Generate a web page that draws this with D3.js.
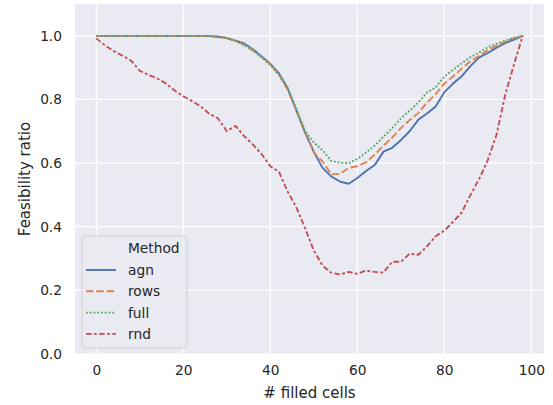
<!DOCTYPE html>
<html>
<head>
<meta charset="utf-8">
<script src="https://cdn.jsdelivr.net/npm/d3@7"></script>
<style>
    body { margin: 0; background: #fff; }
    svg { display: block; font-family: "DejaVu Sans", sans-serif; }
</style>
</head>
<body>
<div id="chart"></div>
<script>
// number of filled cells (x)
const cells = [0, 2, 4, 6, 8, 10, 12, 14, 16, 18, 20, 22, 24, 26, 28, 30, 32, 34, 36, 38,
    40, 42, 44, 46, 48, 50, 52, 54, 56, 58, 60, 62, 64, 66, 68, 70, 72, 74, 76, 78,
    80, 82, 84, 86, 88, 90, 92, 94, 96, 98];

// feasibility ratio per method
const agn = [1.0, 1.0, 1.0, 1.0, 1.0, 1.0, 1.0, 1.0, 1.0, 1.0, 1.0, 1.0, 1.0, 0.999, 0.997, 0.993, 0.985, 0.976, 0.958, 0.935,
    0.912, 0.882, 0.835, 0.765, 0.695, 0.635, 0.585, 0.558, 0.542, 0.535, 0.553, 0.575, 0.594, 0.636, 0.648, 0.672, 0.700, 0.736, 0.756, 0.778,
    0.823, 0.850, 0.873, 0.905, 0.932, 0.946, 0.963, 0.977, 0.988, 1.0];
const rows = [1.0, 1.0, 1.0, 1.0, 1.0, 1.0, 1.0, 1.0, 1.0, 1.0, 1.0, 1.0, 1.0, 0.999, 0.997, 0.993, 0.984, 0.972, 0.955, 0.933,
    0.910, 0.878, 0.830, 0.765, 0.700, 0.633, 0.605, 0.565, 0.566, 0.585, 0.590, 0.603, 0.626, 0.655, 0.680, 0.710, 0.735, 0.757, 0.790, 0.817,
    0.850, 0.872, 0.897, 0.920, 0.937, 0.955, 0.969, 0.982, 0.993, 1.0];
const full = [1.0, 1.0, 1.0, 1.0, 1.0, 1.0, 1.0, 1.0, 1.0, 1.0, 1.0, 1.0, 1.0, 0.999, 0.997, 0.992, 0.983, 0.970, 0.953, 0.932,
    0.908, 0.876, 0.835, 0.770, 0.700, 0.665, 0.640, 0.607, 0.601, 0.600, 0.613, 0.633, 0.655, 0.683, 0.710, 0.740, 0.765, 0.790, 0.822, 0.838,
    0.872, 0.893, 0.914, 0.933, 0.948, 0.964, 0.975, 0.985, 0.994, 1.0];
const rnd = [0.992, 0.970, 0.952, 0.938, 0.922, 0.890, 0.877, 0.866, 0.850, 0.828, 0.810, 0.795, 0.778, 0.755, 0.740, 0.700, 0.717, 0.685, 0.658, 0.628,
    0.590, 0.572, 0.510, 0.460, 0.395, 0.325, 0.278, 0.255, 0.250, 0.258, 0.252, 0.262, 0.258, 0.256, 0.290, 0.290, 0.315, 0.312, 0.338, 0.370,
    0.388, 0.415, 0.445, 0.500, 0.550, 0.610, 0.690, 0.815, 0.910, 1.0];

const methods = ["agn", "rows", "full", "rnd"];
const seriesValues = [agn, rows, full, rnd];
const xTicks = [0, 20, 40, 60, 80, 100];
const yTicks = [0.0, 0.2, 0.4, 0.6, 0.8, 1.0];

const colors = ["#4C72B0", "#DD8452", "#55A868", "#C44E52"];
const lw = 1.875;
const dashes = ["none", `${4 * lw},${1.5 * lw}`, `${1 * lw},${1 * lw}`, `${3 * lw},${1.25 * lw},${1.5 * lw},${1.25 * lw}`];

const W = 553, H = 405;
const margin = {top: 4, right: 9, bottom: 51, left: 75};
const width = W - margin.left - margin.right;
const height = H - margin.top - margin.bottom;
const textColor = "#262626";

const svg = d3.select("#chart").append("svg")
    .attr("width", W)
    .attr("height", H);

const g = svg.append("g")
    .attr("transform", `translate(${margin.left},${margin.top})`);

let x = d3.scaleLinear().domain([-4.9, 102.9]).range([0, width]);
let y = d3.scaleLinear().domain([0, 1.1]).range([height, 0]);

// background
g.append("rect")
    .attr("width", width)
    .attr("height", height)
    .attr("fill", "#EAEAF2");

// grid
g.selectAll(".xgrid").data(xTicks).join("line")
    .attr("x1", d => x(d)).attr("x2", d => x(d))
    .attr("y1", 0).attr("y2", height)
    .attr("stroke", "#fff").attr("stroke-width", 1.25);
g.selectAll(".ygrid").data(yTicks).join("line")
    .attr("class", "ygrid")
    .attr("x1", 0).attr("x2", width)
    .attr("y1", d => y(d)).attr("y2", d => y(d))
    .attr("stroke", "#fff").attr("stroke-width", 1.25);

// axes (tick labels only, like seaborn darkgrid)
let xAxis = g.append("g")
    .attr("transform", `translate(0,${height})`)
    .call(d3.axisBottom(x).tickValues(xTicks).tickSize(0).tickPadding(11));
let yAxis = g.append("g")
    .call(d3.axisLeft(y).tickValues(yTicks).tickFormat(d3.format(".1f")).tickSize(0).tickPadding(13));
[xAxis, yAxis].forEach(a => {
    a.select(".domain").remove();
    a.selectAll("text")
        .attr("fill", textColor)
        .style("font-size", "13.75px")
        .style("font-family", "DejaVu Sans, sans-serif");
});

// lines
const line = d3.line()
    .x((d, i) => x(cells[i]))
    .y(d => y(d));

seriesValues.forEach((vals, i) => {
    g.append("path")
        .datum(vals)
        .attr("fill", "none")
        .attr("stroke", colors[i])
        .attr("stroke-width", lw)
        .attr("stroke-dasharray", dashes[i])
        .attr("stroke-linejoin", "round")
        .attr("d", line);
});

// axis titles
svg.append("text")
    .attr("x", margin.left + width / 2)
    .attr("y", 398)
    .attr("text-anchor", "middle")
    .attr("fill", textColor)
    .style("font-size", "15px")
    .text("# filled cells");

svg.append("text")
    .attr("transform", `translate(30,${margin.top + height / 2}) rotate(-90)`)
    .attr("text-anchor", "middle")
    .attr("fill", textColor)
    .style("font-size", "15px")
    .text("Feasibility ratio");

// legend
const legend = svg.append("g").attr("transform", "translate(82,236)");
legend.append("rect")
    .attr("width", 105)
    .attr("height", 112)
    .attr("rx", 3)
    .attr("fill", "#EAEAF2")
    .attr("fill-opacity", 0.8)
    .attr("stroke", "#cfcfd6")
    .attr("stroke-width", 1);

legend.append("text")
    .attr("x", 46)
    .attr("y", 12 + 5)
    .attr("fill", textColor)
    .style("font-size", "13.75px")
    .text("Method");

methods.forEach((m, i) => {
    let cy = 34 + i * 21.3;
    legend.append("line")
        .attr("x1", 4).attr("x2", 34)
        .attr("y1", cy).attr("y2", cy)
        .attr("stroke", colors[i])
        .attr("stroke-width", lw)
        .attr("stroke-dasharray", dashes[i]);
    legend.append("text")
        .attr("x", 46)
        .attr("y", cy + 5)
        .attr("fill", textColor)
        .style("font-size", "13.75px")
        .text(m);
});
</script>
</body>
</html>
